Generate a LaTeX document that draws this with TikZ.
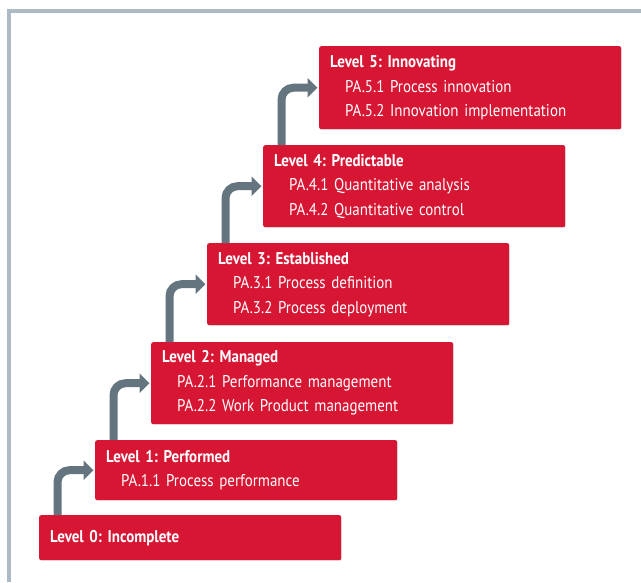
\documentclass[tikz,border=0pt]{standalone}
\usepackage{fontspec}
\setmainfont{PT Sans}[FakeStretch=0.88]
\usetikzlibrary{arrows.meta,calc,shadows}

\definecolor{lvlred}{RGB}{215,22,52}
\definecolor{stepgray}{RGB}{100,117,127}
\definecolor{framegray}{RGB}{172,186,196}

\newcommand{\paline}[1]{\hspace*{15pt}#1}

\tikzset{
  lvl/.style={draw=none, fill=lvlred, rounded corners=2pt, anchor=north west,
              minimum width=302pt, text width=280pt, inner xsep=11pt, inner ysep=0pt,
              align=left, text=white, font=\fontsize{17}{24.5}\selectfont\frenchspacing,
              drop shadow={opacity=.18, shadow xshift=.8pt, shadow yshift=-.8pt}},
  stepup/.style={draw=stepgray, line width=8pt, rounded corners=12pt,
                 -{Triangle[length=10pt,width=19pt]}, shorten >=1.5pt}
}

\begin{document}
\begin{tikzpicture}[x=1pt, y=1pt]
    \useasboundingbox (0,0) rectangle (641,-582);

    % frame
    \draw[framegray, line width=4pt] (9,-582) |- (641,-11);

    % levels
    \node[lvl, minimum height=45pt] (l0) at (39,-515) {\bfseries Level 0: Incomplete};
    \node[lvl, minimum height=60pt] (l1) at (95,-440) {\textbf{Level 1: Performed}\\
        \paline{PA.1.1 Process performance}};
    \node[lvl, minimum height=82pt] (l2) at (151,-342) {\textbf{Level 2: Managed}\\
        \paline{PA.2.1 Performance management}\\
        \paline{PA.2.2 Work Product management}};
    \node[lvl, minimum height=82pt] (l3) at (207,-243) {\textbf{Level 3: Established}\\
        \paline{PA.3.1 Process definition}\\
        \paline{PA.3.2 Process deployment}};
    \node[lvl, minimum height=82pt] (l4) at (263,-145) {\textbf{Level 4: Predictable}\\
        \paline{PA.4.1 Quantitative analysis}\\
        \paline{PA.4.2 Quantitative control}};
    \node[lvl, minimum height=83pt] (l5) at (319,-46) {\textbf{Level 5: Innovating}\\
        \paline{PA.5.1 Process innovation}\\
        \paline{PA.5.2 Innovation implementation}};

    % steps
    \foreach \lo/\hi in {l0/l1, l1/l2, l2/l3, l3/l4, l4/l5}
        \draw[stepup] ($(\lo.north west)+(18.5,0)$) |- (\hi.west);
\end{tikzpicture}
\end{document}
